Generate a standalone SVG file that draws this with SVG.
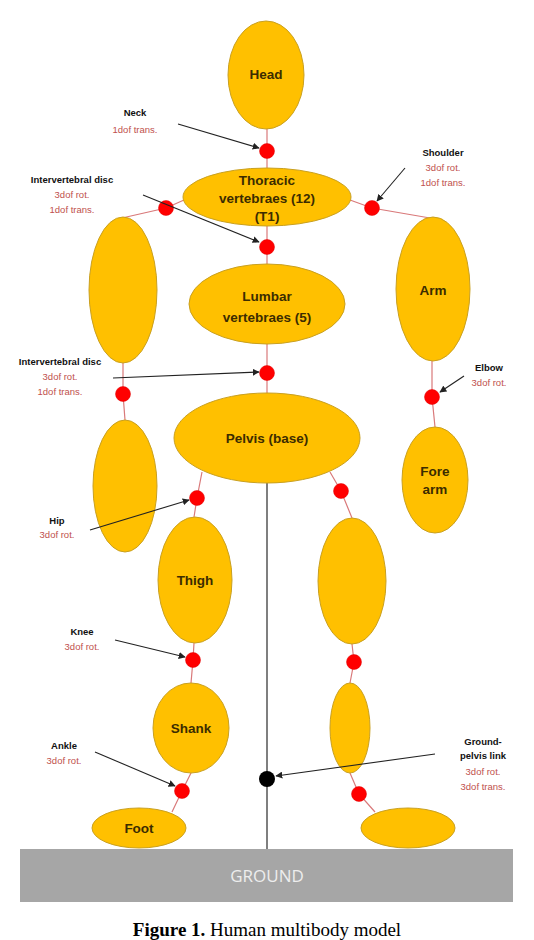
<svg xmlns="http://www.w3.org/2000/svg" width="534" height="940" viewBox="0 0 534 940">
<style>
.body{fill:#ffc000;stroke:#c9a020;stroke-width:1}
.joint{fill:#ff0000;stroke:#e00000;stroke-width:0.5}
.link{stroke:#d9797a;stroke-width:1.2;fill:none}
.arr{stroke:#222;stroke-width:1.1;fill:none;marker-end:url(#ah)}
.nl{font-family:"Liberation Sans",Arial,sans-serif;font-size:13.5px;font-weight:bold;fill:#3b2c00;text-anchor:middle}
.lb{font-family:"Liberation Sans",Arial,sans-serif;font-size:9.5px;font-weight:bold;fill:#111;text-anchor:middle}
.lr{font-family:"Liberation Sans",Arial,sans-serif;font-size:9.5px;fill:#c0504d;text-anchor:middle}
</style>
<defs>
<marker id="ah" viewBox="0 0 10 10" refX="9" refY="5" markerWidth="7" markerHeight="7" orient="auto" markerUnits="userSpaceOnUse">
<path d="M0,0 L10,5 L0,10 z" fill="#222"/>
</marker>
</defs>
<rect width="534" height="940" fill="#fff"/>

<g id="connectors">
<path class="link" d="M267,128 L267,168"/>
<path class="link" d="M267,226 L267,264"/>
<path class="link" d="M267,344 L267,393"/>
<path class="link" d="M184,200 L166,208 L122,218"/>
<path class="link" d="M350,200 L372,208 L430,218"/>
<path class="link" d="M123,363 L123,394 L125,420"/>
<path class="link" d="M432,361 L432,397 L435,427"/>
<path class="link" d="M202,472 L197,498 L194,517"/>
<path class="link" d="M330,472 L341,491 L352,518"/>
<path class="link" d="M194,643 L193,660 L191,683"/>
<path class="link" d="M352,644 L354,662 L350,683"/>
<path class="link" d="M191,773 L182,791 L172,812"/>
<path class="link" d="M350,773 L359,794 L375,812"/>
<line x1="267" y1="483" x2="267" y2="849" stroke="#7f7f7f" stroke-width="2"/>
</g>

<g id="ground">
<rect x="20" y="849" width="493" height="53" fill="#a6a6a6"/>
<text x="267" y="882" font-family="'Open Sans','Liberation Sans',sans-serif" font-size="17" fill="#ededed" text-anchor="middle">GROUND</text>
</g>

<g id="head"><ellipse class="body" cx="266" cy="75" rx="38" ry="54"/><text class="nl" x="266" y="79">Head</text></g>
<g id="thoracic"><ellipse class="body" cx="267" cy="197" rx="84" ry="29"/><text class="nl" x="267" y="185">Thoracic</text><text class="nl" x="267" y="203">vertebraes (12)</text><text class="nl" x="267" y="221">(T1)</text></g>
<g id="lumbar"><ellipse class="body" cx="267" cy="304" rx="78" ry="40"/><text class="nl" x="267" y="301">Lumbar</text><text class="nl" x="267" y="322">vertebraes (5)</text></g>
<g id="pelvis"><ellipse class="body" cx="267" cy="438" rx="93" ry="45"/><text class="nl" x="267" y="443">Pelvis (base)</text></g>
<g id="left-arm"><ellipse class="body" cx="123" cy="290" rx="34" ry="73"/></g>
<g id="right-arm"><ellipse class="body" cx="433" cy="289" rx="37" ry="72"/><text class="nl" x="433" y="295">Arm</text></g>
<g id="left-forearm"><ellipse class="body" cx="125" cy="486" rx="32" ry="66"/></g>
<g id="right-forearm"><ellipse class="body" cx="435" cy="480" rx="33" ry="53"/><text class="nl" x="435" y="476">Fore</text><text class="nl" x="435" y="494">arm</text></g>
<g id="left-thigh"><ellipse class="body" cx="195" cy="580" rx="37" ry="63"/><text class="nl" x="195" y="585">Thigh</text></g>
<g id="right-thigh"><ellipse class="body" cx="352" cy="581" rx="34" ry="63"/></g>
<g id="left-shank"><ellipse class="body" cx="191" cy="728" rx="38" ry="45"/><text class="nl" x="191" y="733">Shank</text></g>
<g id="right-shank"><ellipse class="body" cx="350" cy="728" rx="20" ry="45"/></g>
<g id="left-foot"><ellipse class="body" cx="139" cy="828" rx="47" ry="20"/><text class="nl" x="139" y="833">Foot</text></g>
<g id="right-foot"><ellipse class="body" cx="408" cy="828" rx="47" ry="20"/></g>

<g id="joints">
<circle class="joint" cx="267" cy="151" r="7.5"/>
<circle class="joint" cx="267" cy="247" r="7.5"/>
<circle class="joint" cx="267" cy="373" r="7.5"/>
<circle class="joint" cx="166" cy="208" r="7.5"/>
<circle class="joint" cx="372" cy="208" r="7.5"/>
<circle class="joint" cx="123" cy="394" r="7.5"/>
<circle class="joint" cx="432" cy="397" r="7.5"/>
<circle class="joint" cx="197" cy="498" r="7.5"/>
<circle class="joint" cx="341" cy="491" r="7.5"/>
<circle class="joint" cx="193" cy="660" r="7.5"/>
<circle class="joint" cx="354" cy="662" r="7.5"/>
<circle class="joint" cx="182" cy="791" r="7.5"/>
<circle class="joint" cx="359" cy="794" r="7.5"/>
<circle cx="267" cy="779" r="8" fill="#000"/>
</g>

<g id="label-arrows">
<path class="arr" d="M178,124 L259,148"/>
<path class="arr" d="M143,195 L259,242"/>
<path class="arr" d="M405,168 L377,201"/>
<path class="arr" d="M113,378 L259,372"/>
<path class="arr" d="M464,376 L440,392"/>
<path class="arr" d="M90,530 L189,500"/>
<path class="arr" d="M115,640 L185,657"/>
<path class="arr" d="M95,752 L175,786"/>
<path class="arr" d="M435,754 L276,776"/>
</g>

<g id="labels">
<text class="lb" x="135" y="116">Neck</text><text class="lr" x="135" y="133">1dof trans.</text>
<text class="lb" x="72" y="183">Intervertebral disc</text><text class="lr" x="72" y="198">3dof rot.</text><text class="lr" x="72" y="213">1dof trans.</text>
<text class="lb" x="443" y="156">Shoulder</text><text class="lr" x="443" y="171">3dof rot.</text><text class="lr" x="443" y="186">1dof trans.</text>
<text class="lb" x="60" y="365">Intervertebral disc</text><text class="lr" x="60" y="380">3dof rot.</text><text class="lr" x="60" y="395">1dof trans.</text>
<text class="lb" x="489" y="371">Elbow</text><text class="lr" x="489" y="386">3dof rot.</text>
<text class="lb" x="57" y="524">Hip</text><text class="lr" x="57" y="538">3dof rot.</text>
<text class="lb" x="82" y="635">Knee</text><text class="lr" x="82" y="650">3dof rot.</text>
<text class="lb" x="64" y="749">Ankle</text><text class="lr" x="64" y="764">3dof rot.</text>
<text class="lb" x="483" y="745">Ground-</text><text class="lb" x="483" y="759">pelvis link</text><text class="lr" x="483" y="775">3dof rot.</text><text class="lr" x="483" y="790">3dof trans.</text>
</g>

<text x="267" y="936" font-family="'Liberation Serif','Times New Roman',serif" font-size="19" fill="#000" text-anchor="middle"><tspan font-weight="bold">Figure 1.</tspan> Human multibody model</text>
</svg>
